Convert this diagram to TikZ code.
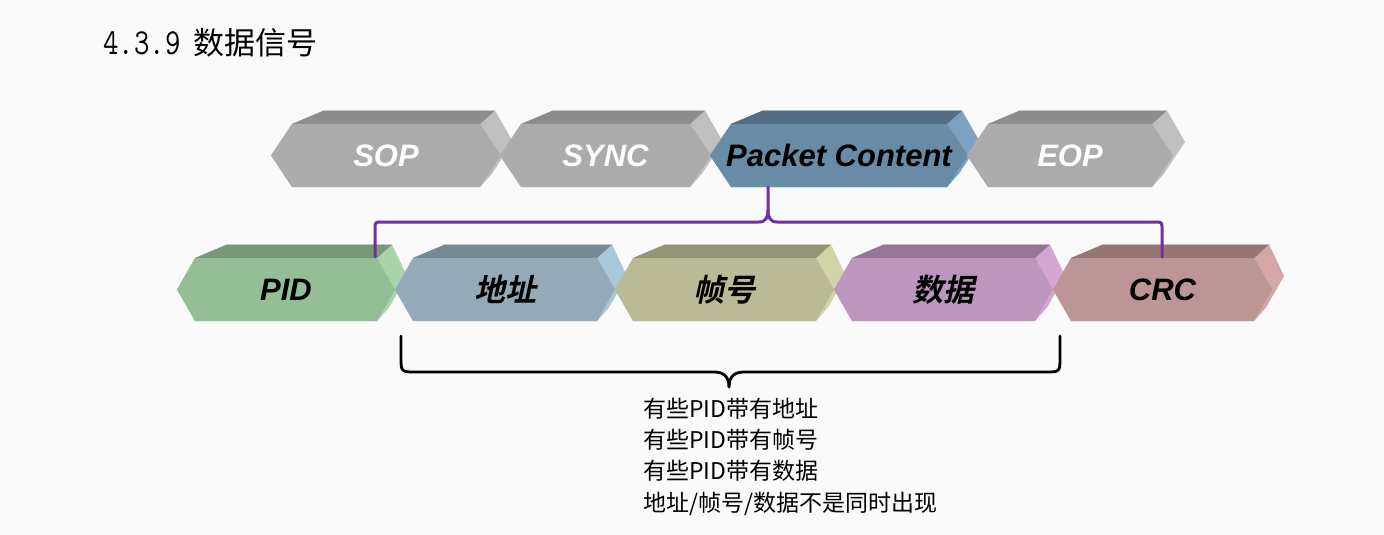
\documentclass[tikz,border=0pt]{standalone}
\usepackage{fontspec}
\setmainfont{Liberation Sans}
\newfontfamily\cjk{Noto Sans CJK SC}
\newfontfamily\cjkbi{Noto Sans CJK SC Bold}[FakeSlant=0.22]
\definecolor{bg}{HTML}{FAFAFA}
\definecolor{gF}{HTML}{ABABAB}\definecolor{gT}{HTML}{8C8C8C}\definecolor{gS}{HTML}{BFBFBF}
\definecolor{bF}{HTML}{688BA6}\definecolor{bT}{HTML}{536E84}\definecolor{bS}{HTML}{7CA2C2}
\definecolor{pF}{HTML}{96BE96}\definecolor{pT}{HTML}{789878}\definecolor{pS}{HTML}{A8D4A8}
\definecolor{aF}{HTML}{94AAB9}\definecolor{aT}{HTML}{768894}\definecolor{aS}{HTML}{A8C8DA}
\definecolor{fF}{HTML}{BABA96}\definecolor{fT}{HTML}{949476}\definecolor{fS}{HTML}{D2D4A8}
\definecolor{dF}{HTML}{BC96BC}\definecolor{dT}{HTML}{967694}\definecolor{dS}{HTML}{D4A6D4}
\definecolor{cF}{HTML}{BC9694}\definecolor{cT}{HTML}{967674}\definecolor{cS}{HTML}{D4A6A6}
\definecolor{brpurple}{HTML}{7030A0}
\tikzset{
  whitelabel/.style={text=white,font=\fontsize{31}{31}\selectfont\bfseries\itshape,inner sep=0pt},
  blacklabel/.style={text=black,font=\fontsize{31}{31}\selectfont\bfseries\itshape,inner sep=0pt},
  cjklabel/.style={text=black,font=\fontsize{31}{31}\selectfont\cjkbi,inner sep=0pt},
  purplebrace/.style={draw=brpurple,line width=3pt,line join=round,line cap=round},
  blackbrace/.style={draw=black,line width=2.8pt,line join=round,line cap=round},
  notetext/.style={font=\fontsize{23}{23}\selectfont\cjk,inner sep=0pt,anchor=base west}
}
% #1 name, #2 L, #3 R, #4 T, #5 B, #6 tip depth, #7 colour prefix, #8 label style, #9 text
\newcommand\chevron[9]{%
  \pgfmathsetmacro\cM{(#4+#5)/2}%
  \pgfmathsetmacro\cX{(#2+#3)/2}%
  \fill[#7S] (#2+#6,#4) -- (#2+#6+32,#4-13.5) -- (#3-#6+15,#4-13.5) -- (#3+12,\cM-13.5)
     -- (#3-#6+12,#5-13.5) -- (#3-#6,#5) -- (#2+#6,#5) -- (#2,\cM) -- cycle;
  \fill[#7T] (#2+#6,#4) -- (#2+#6+32,#4-13.5) -- (#3-#6+15,#4-13.5) -- (#3-#6,#4) -- cycle;
  \fill[#7F] (#2,\cM) -- (#2+#6,#4) -- (#3-#6,#4) -- (#3,\cM) -- (#3-#6,#5) -- (#2+#6,#5) -- cycle;
  \node[#8] (#1) at (\cX,\cM) {#9};%
}
\begin{document}
\begin{tikzpicture}[x=1pt,y=-1pt]
\fill[bg] (0,0) rectangle (1384,535);
\useasboundingbox (0,0) rectangle (1384,535);
% heading
\node[anchor=base west,inner sep=0pt] (head) at (103,55)
  {\scalebox{1}[1.22]{\fontsize{30}{30}\selectfont\ttfamily 4.3.9}\hspace{13pt}{\fontsize{31}{31}\selectfont\cjk 数据信号}};
% top row
\chevron{sop}{271}{501}{124}{187}{21}{g}{whitelabel}{SOP}
\chevron{sync}{500}{711}{124}{187}{21}{g}{whitelabel}{SYNC}
\chevron{pc}{710}{968}{124}{187}{21}{b}{blacklabel}{Packet Content}
\chevron{eop}{967}{1173}{124}{187}{21}{g}{whitelabel}{EOP}
% bottom row
\chevron{pid}{177}{395}{258}{321}{18}{p}{blacklabel}{PID}
\chevron{addr}{395}{615}{258}{321}{18}{a}{cjklabel}{地址}
\chevron{frame}{615}{834}{258}{321}{18}{f}{cjklabel}{帧号}
\chevron{data}{834}{1053}{258}{321}{18}{d}{cjklabel}{数据}
\chevron{crc}{1053}{1272}{258}{321}{18}{c}{blacklabel}{CRC}
% purple brace
\coordinate (pctop) at (768,187);
\coordinate (pidend) at (375,257);
\coordinate (crcend) at (1162,257);
\draw[purplebrace] (pidend) -- (375,229) .. controls (375,222) .. (382,222) -- (759,222)
   .. controls (766,222) and (768,217) .. (768,210) -- (pctop);
\draw[purplebrace] (768,210) .. controls (768,217) and (770,222) .. (777,222) -- (1155,222)
   .. controls (1162,222) .. (1162,229) -- (crcend);
% black brace
\coordinate (bl) at (401,336);
\coordinate (br) at (1060,336);
\coordinate (btip) at (729,387);
\draw[blackbrace] (bl) -- (401,357) .. controls (401,372) .. (416,372) -- (714,372)
   .. controls (724,372) and (729,377) .. (btip);
\draw[blackbrace] (btip) .. controls (729,377) and (734,372) .. (744,372) -- (1045,372)
   .. controls (1060,372) .. (1060,357) -- (br);
% notes
\node[notetext] (n1) at (643,417) {有些PID带有地址};
\node[notetext] (n2) at (643,448) {有些PID带有帧号};
\node[notetext] (n3) at (643,479) {有些PID带有数据};
\node[notetext] (n4) at (643,511) {地址/帧号/数据不是同时出现};
\end{tikzpicture}
\end{document}
